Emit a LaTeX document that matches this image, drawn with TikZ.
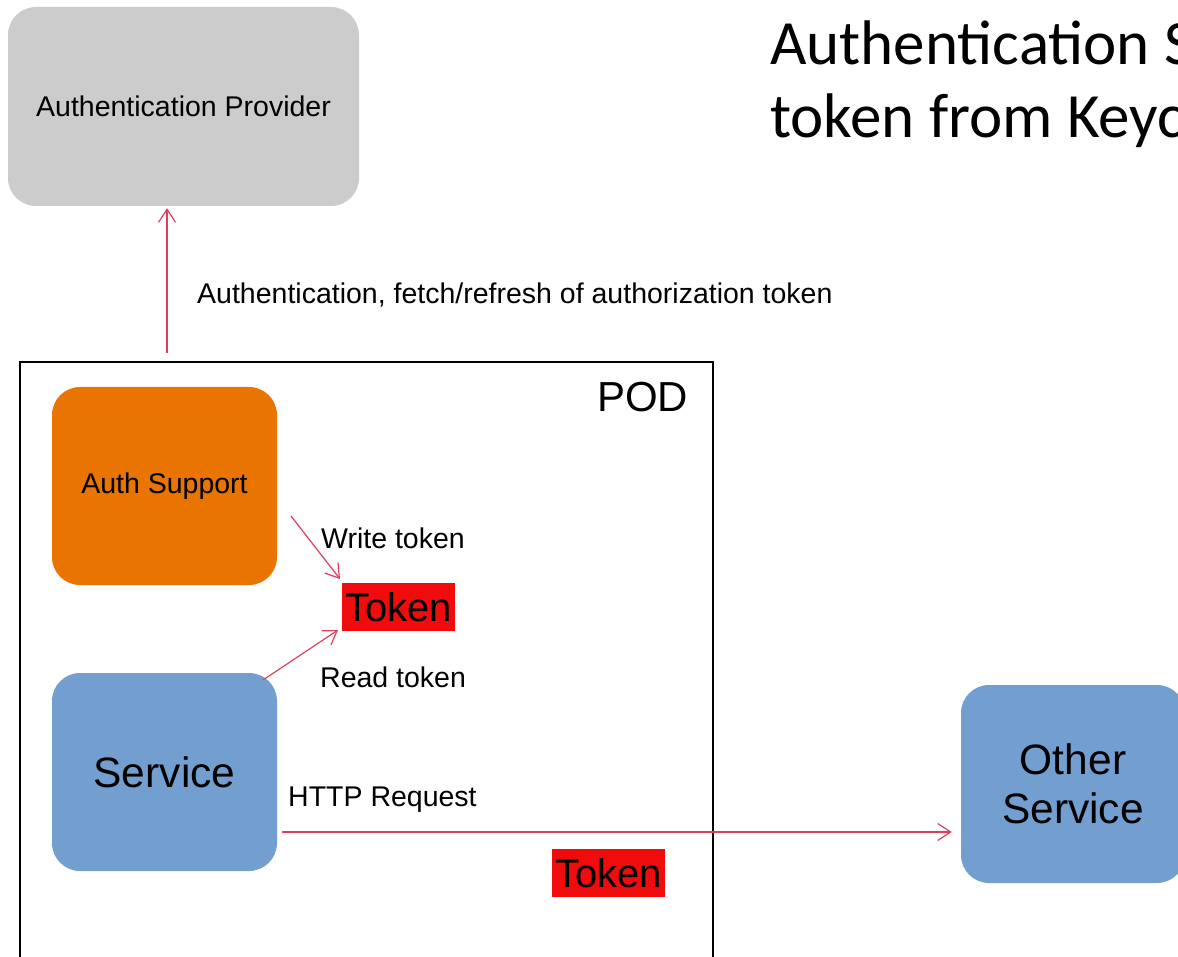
\documentclass[tikz,border=0pt]{standalone}
\usepackage{fontspec}
\setmainfont{Liberation Sans}
\newfontfamily\titlefont{Carlito}
\usetikzlibrary{arrows.meta}
\definecolor{arrowred}{RGB}{222,62,92}
\definecolor{provgray}{RGB}{204,204,204}
\definecolor{authorange}{RGB}{233,116,0}
\definecolor{svcblue}{RGB}{114,159,207}
\definecolor{tokenred}{RGB}{240,12,12}
\begin{document}
\begin{tikzpicture}[x=1pt,y=-1pt,
  box/.style={rounded corners=28pt, minimum width=225pt, minimum height=198pt, inner sep=0pt},
  lbl/.style={font=\fontsize{28.5}{33}\selectfont, anchor=base west, inner sep=0pt},
  arr/.style={draw=arrowred, line width=1.2pt, -{Straight Barb[length=13pt,width=17pt]}},
  tok/.style={fill=tokenred, minimum width=113pt, minimum height=48pt, inner sep=0pt, font=\fontsize{40}{45}\selectfont}]
\useasboundingbox (0,0) rectangle (1178,957);
\clip (0,0) rectangle (1178,957);
\fill[white] (0,0) rectangle (1178,957);

% title
\node[anchor=base west, inner sep=0pt, font=\titlefont\fontsize{63}{73}\selectfont] (title1) at (770,65) {Authentication S};
\node[anchor=base west, inner sep=0pt, font=\titlefont\fontsize{63}{73}\selectfont] (title2) at (770,138) {token from Keyc};

% provider
\node[box, fill=provgray, minimum width=351pt, minimum height=199pt, font=\fontsize{28.5}{33}\selectfont] (prov) at (183.5,106.5) {Authentication Provider};

% POD
\draw[line width=1.1pt] (20,362) rectangle (713,990);
\node[anchor=base west, inner sep=0pt, font=\fontsize{42}{48}\selectfont] (podlbl) at (597,412) {POD};

% boxes
\node[box, fill=authorange, font=\fontsize{28.5}{33}\selectfont] (auth) at (164.5,486) {Auth Support};
\node[box, fill=svcblue, font=\fontsize{42.5}{48}\selectfont] (svc) at (164.5,772) {Service};
\node[box, fill=svcblue, minimum width=224pt, align=center, font=\fontsize{42.5}{49}\selectfont] (other) at (1073,784) {Other\\Service};

% tokens
\node[tok] (tok1) at (398.5,607) {Token};
\node[tok] (tok2) at (608.5,873) {Token};

% labels
\node[lbl] (l1) at (197,304) {Authentication, fetch/refresh of authorization token};
\node[lbl] (l2) at (321,548) {Write token};
\node[lbl] (l3) at (320,687) {Read token};
\node[lbl] (l4) at (288,806) {HTTP Request};

% connectors
\coordinate (upstart) at (167,353);
\draw[arr, shorten >=2pt] (upstart) -- (upstart |- prov.south);

\coordinate (ws) at (291,516);
\coordinate (we) at (340,579);
\draw[arr] (ws) -- (we);

\coordinate (rs) at (263,680);
\coordinate (re) at (338,630);
\draw[arr] (rs) -- (re);

\coordinate (hs) at (282,832);
\draw[arr, shorten >=9pt] (hs) -- (hs -| other.west);
\end{tikzpicture}
\end{document}
